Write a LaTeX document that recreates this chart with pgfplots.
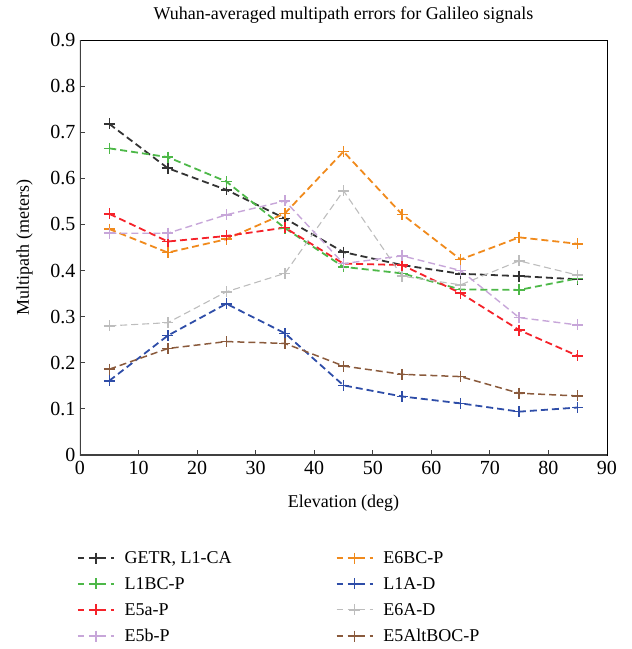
\documentclass[border=0pt]{standalone}
\usepackage{fontspec}
\setmainfont{Liberation Serif}
\usepackage{pgfplots}
\pgfplotsset{compat=1.18}
\definecolor{cBlack}{HTML}{333333}
\definecolor{cGreen}{HTML}{4DB848}
\definecolor{cRed}{HTML}{F5222A}
\definecolor{cPurple}{HTML}{C7A6D9}
\definecolor{cOrange}{HTML}{F08A1C}
\definecolor{cBlue}{HTML}{2E4DA8}
\definecolor{cGray}{HTML}{BDBDBD}
\definecolor{cBrown}{HTML}{8A5A3C}
\begin{document}
\begin{tikzpicture}
\useasboundingbox (-80pt,-194pt) rectangle (552pt,455pt);
\begin{axis}[
  at={(0pt,0pt)}, anchor=south west,
  scale only axis, width=527pt, height=415pt,
  xmin=0, xmax=90, ymin=0, ymax=0.9,
  xtick={0,10,...,90}, ytick={0,0.1,...,0.9},
  yticklabel style={/pgf/number format/fixed,/pgf/number format/precision=1, xshift=-1pt},
  xticklabel style={yshift=-3pt},
  tick align=inside, tick pos=left,
  major tick length=5pt,
  every tick/.style={black!75, line width=0.8pt},
  axis line style={black, line width=0.8pt},
  /pgf/number format/assume math mode=true,
  font=\fontsize{18}{20}\selectfont,
  tick label style={font=\fontsize{20}{22}\selectfont},
  title={Wuhan-averaged multipath errors for Galileo signals},
  title style={yshift=7pt},
  xlabel={Elevation (deg)}, ylabel={Multipath (meters)},
  xlabel style={yshift=-13pt}, ylabel style={yshift=11pt},
  legend columns=2,
  legend cell align=left,
  legend style={draw=none, at={(-0.012,-0.222)}, anchor=north west,
    font=\fontsize{18}{20}\selectfont, row sep=8.5pt,
    /tikz/every even column/.append style={column sep=3pt}},
  legend image code/.code={\draw[mark repeat=2,mark phase=2,#1,dash pattern=on 6pt off 5pt] plot coordinates {(0pt,0pt) (18pt,0pt) (36pt,0pt)};},
  every axis plot/.append style={mark=+, mark size=5.5pt, dash pattern=on 7pt off 4pt, mark options={solid, line width=1.5pt}},
]
\draw[black!75, line width=2pt] (rel axis cs:0,1) -- (rel axis cs:0,0) -- (rel axis cs:1,0);
\addplot[cBlack, line width=1.8pt] coordinates {(5,0.718)(15,0.622)(25,0.575)(35,0.513)(45,0.440)(55,0.412)(65,0.393)(75,0.388)(85,0.381)};
\addlegendentry{\hspace{8pt}\makebox[206pt][l]{GETR, L1-CA}}
\addplot[cOrange, line width=1.8pt] coordinates {(5,0.490)(15,0.439)(25,0.468)(35,0.524)(45,0.658)(55,0.522)(65,0.424)(75,0.472)(85,0.458)};
\addlegendentry{\hspace{8pt}E6BC-P}
\addplot[cGreen, line width=1.8pt] coordinates {(5,0.665)(15,0.646)(25,0.593)(35,0.492)(45,0.408)(55,0.394)(65,0.359)(75,0.358)(85,0.383)};
\addlegendentry{\hspace{8pt}L1BC-P}
\addplot[cBlue, line width=1.8pt] coordinates {(5,0.161)(15,0.259)(25,0.328)(35,0.264)(45,0.151)(55,0.127)(65,0.112)(75,0.094)(85,0.103)};
\addlegendentry{\hspace{8pt}L1A-D}
\addplot[cRed, line width=1.8pt] coordinates {(5,0.523)(15,0.463)(25,0.475)(35,0.493)(45,0.415)(55,0.412)(65,0.351)(75,0.271)(85,0.215)};
\addlegendentry{\hspace{8pt}E5a-P}
\addplot[cGray, line width=1.1pt] coordinates {(5,0.280)(15,0.287)(25,0.354)(35,0.394)(45,0.573)(55,0.388)(65,0.369)(75,0.421)(85,0.390)};
\addlegendentry{\hspace{8pt}E6A-D}
\addplot[cPurple, line width=1.4pt] coordinates {(5,0.481)(15,0.481)(25,0.521)(35,0.551)(45,0.415)(55,0.432)(65,0.400)(75,0.298)(85,0.282)};
\addlegendentry{\hspace{8pt}E5b-P}
\addplot[cBrown, line width=1.5pt] coordinates {(5,0.186)(15,0.231)(25,0.246)(35,0.242)(45,0.193)(55,0.175)(65,0.170)(75,0.134)(85,0.128)};
\addlegendentry{\hspace{8pt}E5AltBOC-P}
\end{axis}
\end{tikzpicture}
\end{document}
